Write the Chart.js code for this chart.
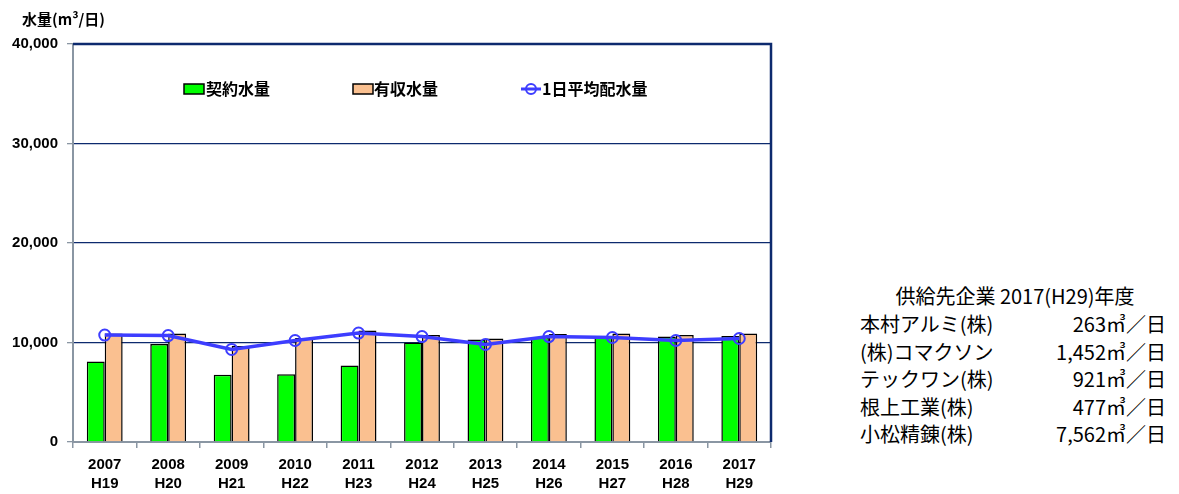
<!DOCTYPE html>
<html>
<head>
<meta charset="utf-8">
<script src="https://cdn.jsdelivr.net/npm/chart.js@4"></script>
<style>
  body { margin: 0; background: #fff; width: 1179px; height: 494px; position: relative; overflow: hidden; }
  #wrap { position: absolute; left: 0; top: 0; width: 790px; height: 494px; }
  #ytitle { position: absolute; left: 22px; top: 8px; font: bold 15px "Noto Sans CJK JP", sans-serif; color: #000; }
  #info { position: absolute; left: 860px; top: 282px; width: 306px; font: 20px "Noto Sans CJK JP", sans-serif; color: #000; }
  #info .ttl { text-align: center; line-height: 28px; padding-left: 4px; }
  #info .row { display: flex; justify-content: space-between; line-height: 27.5px; }
</style>
</head>
<body>
<div id="wrap"><canvas id="chart" width="790" height="494"></canvas></div>
<div id="ytitle">水量(m³/日)</div>
<div id="info">
  <div class="ttl">供給先企業 2017(H29)年度</div>
  <div class="row"><span>本村アルミ(株)</span><span>263㎥／日</span></div>
  <div class="row"><span>(株)コマクソン</span><span>1,452㎥／日</span></div>
  <div class="row"><span>テックワン(株)</span><span>921㎥／日</span></div>
  <div class="row"><span>根上工業(株)</span><span>477㎥／日</span></div>
  <div class="row"><span>小松精錬(株)</span><span>7,562㎥／日</span></div>
</div>
<script>
// data
const years = ['2007', '2008', '2009', '2010', '2011', '2012', '2013', '2014', '2015', '2016', '2017'];
const heisei = ['H19', 'H20', 'H21', 'H22', 'H23', 'H24', 'H25', 'H26', 'H27', 'H28', 'H29'];
const contract = [8100, 9850, 6750, 6800, 7700, 10000, 10300, 10550, 10500, 10600, 10650];
const billed = [10900, 10900, 9650, 10450, 11200, 10750, 10400, 10850, 10900, 10750, 10900];
const dailyAvg = [10750, 10700, 9300, 10200, 10950, 10600, 9800, 10600, 10500, 10200, 10400];
const yTicks = [0, 10000, 20000, 30000, 40000];

const navy = '#0d2a6e';
const grey = '#8a96a3';
const blue = '#3d3dff';

// top/right frame and in-plot legend
const framePlugin = {
  id: 'frame',
  afterDraw(chart) {
    const { ctx, chartArea: a } = chart;
    ctx.save();
    ctx.strokeStyle = navy;
    ctx.lineWidth = 2.5;
    ctx.beginPath();
    ctx.moveTo(a.left, a.top);
    ctx.lineTo(a.right, a.top);
    ctx.lineTo(a.right, a.bottom);
    ctx.stroke();

    ctx.font = 'bold 16px "Noto Sans CJK JP", sans-serif';
    ctx.textBaseline = 'middle';
    const y = 89;
    ctx.lineWidth = 1.5;
    ctx.strokeStyle = '#000';
    ctx.fillStyle = '#00ff00';
    ctx.fillRect(184, y - 5, 20, 10);
    ctx.strokeRect(184, y - 5, 20, 10);
    ctx.fillStyle = '#fac090';
    ctx.fillRect(353, y - 5, 20, 10);
    ctx.strokeRect(353, y - 5, 20, 10);
    ctx.strokeStyle = blue;
    ctx.lineWidth = 3;
    ctx.beginPath();
    ctx.moveTo(521, y);
    ctx.lineTo(541, y);
    ctx.stroke();
    ctx.lineWidth = 2;
    ctx.beginPath();
    ctx.arc(531, y, 5, 0, Math.PI * 2);
    ctx.stroke();
    ctx.fillStyle = '#000';
    ctx.fillText('契約水量', 206, y);
    ctx.fillText('有収水量', 374, y);
    ctx.fillText('1日平均配水量', 542, y);
    ctx.restore();
  }
};

new Chart(document.getElementById('chart').getContext('2d'), {
  type: 'bar',
  data: {
    labels: years.map((y, i) => [y, heisei[i]]),
    datasets: [
      {
        type: 'line',
        label: '1日平均配水量',
        data: dailyAvg,
        borderColor: blue,
        borderWidth: 3.5,
        pointRadius: 5.5,
        pointBorderWidth: 2,
        pointBackgroundColor: 'rgba(0,0,0,0)',
        pointBorderColor: blue,
        tension: 0,
        order: 0
      },
      {
        label: '契約水量',
        data: contract,
        backgroundColor: '#00ff00',
        borderColor: '#000',
        borderWidth: 1.5,
        categoryPercentage: 0.565,
        barPercentage: 1,
        order: 1
      },
      {
        label: '有収水量',
        data: billed,
        backgroundColor: '#fac090',
        borderColor: '#000',
        borderWidth: 1.5,
        categoryPercentage: 0.565,
        barPercentage: 1,
        order: 1
      }
    ]
  },
  options: {
    responsive: false,
    animation: false,
    layout: { padding: { top: 44, right: 19, left: 0, bottom: 0 } },
    plugins: { legend: { display: false }, tooltip: { enabled: false } },
    scales: {
      x: {
        grid: { display: true, drawOnChartArea: false, offset: true, tickLength: 6, color: grey, lineWidth: 1.5 },
        border: { color: grey, width: 2 },
        ticks: {
          color: '#000',
          font: { family: '"Liberation Sans", sans-serif', size: 15, weight: 'bold', lineHeight: 1.3 },
          padding: 7,
          maxRotation: 0
        },
        afterFit(axis) { axis.height = 52; }
      },
      y: {
        min: 0,
        max: 40000,
        afterBuildTicks(axis) { axis.ticks = yTicks.map(v => ({ value: v })); },
        grid: {
          color: ctx => (ctx.tick && (ctx.tick.value === 0 || ctx.tick.value === 40000)) ? 'rgba(0,0,0,0)' : navy,
          tickColor: grey,
          tickLength: 6,
          lineWidth: 1.3
        },
        border: { color: grey, width: 2 },
        ticks: {
          color: '#000',
          font: { family: '"Liberation Sans", sans-serif', size: 15, weight: 'bold' },
          padding: 9,
          callback: v => v.toLocaleString('en-US')
        },
        afterFit(axis) { axis.width = 73; }
      }
    }
  },
  plugins: [framePlugin]
});
</script>
</body>
</html>
